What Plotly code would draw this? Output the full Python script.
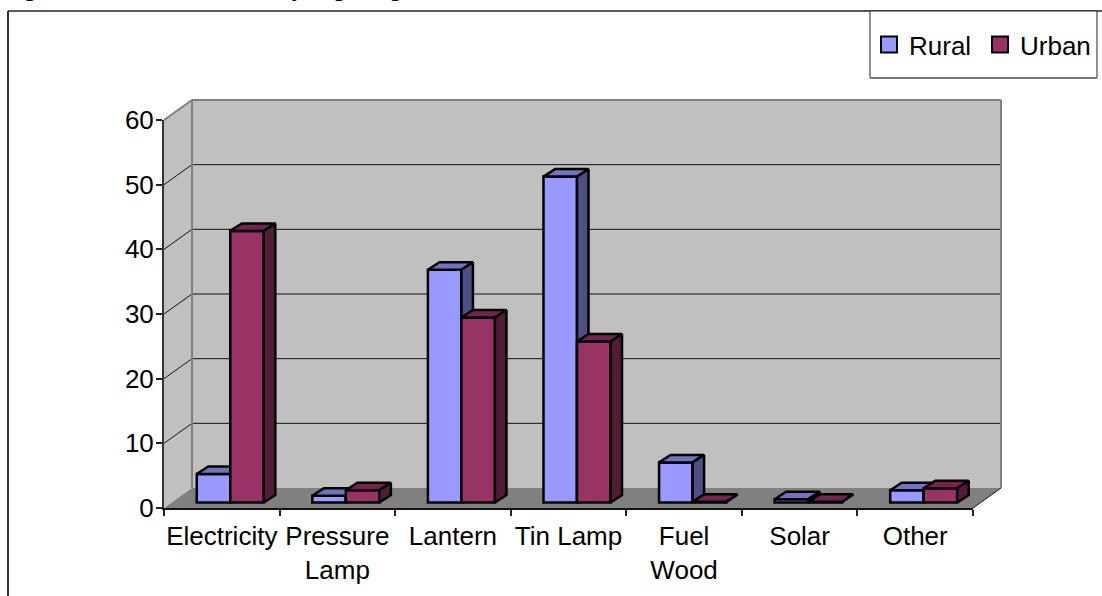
import plotly.graph_objects as go

categories = ["Electricity", "Pressure<br>Lamp", "Lantern", "Tin Lamp", "Fuel<br>Wood", "Solar", "Other"]
rural = [4.4, 1.05, 36, 50.4, 6.2, 0.5, 1.9]
urban = [42, 1.9, 28.6, 24.9, 0.1, 0.1, 2.2]
y_ticks = [0, 10, 20, 30, 40, 50, 60]
title_text = "Figure 4.3: Households by Lighting"

W, H = 1102, 596
FONT = "Liberation Sans"
X0, X1, Y0, Y60 = 164, 973, 508, 120      # front plane of the axes, px
DX, DY = 28, 20                           # wall depth, px
BAR_DX, BAR_DY = 11.5, 7.5                # bar depth, px
BAR_SHIFT_X, BAR_SHIFT_Y = 8.5, 5.5       # bars stand inside the floor, px
BAR_W = 0.29
BLUE, BLUE_TOP, BLUE_SIDE = "#9999FF", "#7373BF", "#4F4F85"
RED, RED_TOP, RED_SIDE = "#993366", "#73264D", "#521C38"

cat_px = (X1 - X0) / len(categories)
unit_px = (Y0 - Y60) / 60
ddx, ddy = BAR_DX / cat_px, BAR_DY / unit_px


def px(x):
    return x / W


def py(y):
    return 1 - y / H


def polygon_shape(points, fill, line=None, width=0):
    path = "M" + "L".join(f"{px(a):.5f},{py(b):.5f}" for a, b in points) + "Z"
    return dict(type="path", xref="paper", yref="paper", path=path, fillcolor=fill,
                line=dict(color=line or fill, width=width), layer="below")


def line_shape(x0, y0, x1, y1, color, width):
    return dict(type="line", xref="paper", yref="paper", x0=px(x0), y0=py(y0), x1=px(x1), y1=py(y1),
                line=dict(color=color, width=width), layer="below")


shapes = [
    line_shape(8, 11, W, 11, "#222222", 1.5),
    line_shape(8, 11, 8, H, "#333333", 2),
    polygon_shape([(X0, Y60), (X0 + DX, Y60 - DY), (X0 + DX, Y0 - DY), (X0, Y0)], "#C0C0C0"),
    polygon_shape([(X0 + DX, Y60 - DY), (X1 + DX, Y60 - DY), (X1 + DX, Y0 - DY), (X0 + DX, Y0 - DY)], "#C0C0C0"),
    polygon_shape([(X0, Y0), (X1, Y0), (X1 + DX, Y0 - DY), (X0 + DX, Y0 - DY)], "#808080"),
]
for t in y_ticks[1:-1]:
    y = Y0 - t * unit_px
    shapes.append(line_shape(X0, y, X0 + DX, y - DY, "#111111", 1))
    shapes.append(line_shape(X0 + DX, y - DY, X1 + DX, y - DY, "#111111", 1))
shapes += [
    line_shape(X0 + DX, Y60 - DY, X1 + DX, Y60 - DY, "#808080", 2),
    line_shape(X0 + DX, Y60 - DY, X0 + DX, Y0 - DY, "#808080", 2),
    line_shape(X1 + DX, Y60 - DY, X1 + DX, Y0 - DY, "#808080", 2),
    line_shape(X0, Y60, X0 + DX, Y60 - DY, "#808080", 2),
    line_shape(X1, Y0, X1 + DX, Y0 - DY, "#111111", 1),
    # legend frame
    dict(type="rect", xref="paper", yref="paper", x0=px(870), x1=px(1097), y0=py(78), y1=py(11),
         fillcolor="white", line=dict(color="#222222", width=1), layer="below"),
    line_shape(870, 78, 1097, 78, "#777777", 2),
]


def faces(values, left, width):
    top_x, top_y, side_x, side_y = [], [], [], []
    for i, v in enumerate(values):
        a = i + left
        b = a + width
        top_x += [a, b, b + ddx, a + ddx, a, None]
        top_y += [v, v, v + ddy, v + ddy, v, None]
        side_x += [b, b + ddx, b + ddx, b, b, None]
        side_y += [0, ddy, v + ddy, v, 0, None]
    return top_x, top_y, side_x, side_y


def series(name, values, left, color, top_col, side_col, xa, ya):
    top_x, top_y, side_x, side_y = faces(values, left, BAR_W)
    line = dict(color="black", width=2.5)
    return [
        go.Bar(x=list(range(len(values))), y=values, width=BAR_W, offset=left, name=name, showlegend=False,
               marker=dict(color=color, line=line), xaxis=xa, yaxis=ya, cliponaxis=False),
        go.Scatter(x=top_x, y=top_y, mode="lines", fill="toself", fillcolor=top_col, line=line,
                   showlegend=False, hoverinfo="skip", xaxis=xa, yaxis=ya, cliponaxis=False),
        go.Scatter(x=side_x, y=side_y, mode="lines", fill="toself", fillcolor=side_col, line=line,
                   showlegend=False, hoverinfo="skip", xaxis=xa, yaxis=ya, cliponaxis=False),
    ]


traces = []
for name, col in (("Rural", BLUE), ("Urban", RED)):
    traces.append(go.Scatter(x=[None], y=[None], mode="markers", name=name,
                             marker=dict(symbol="square", size=20, color=col, line=dict(color="black", width=2))))
traces += series("Rural", rural, -BAR_W, BLUE, BLUE_TOP, BLUE_SIDE, "x2", "y2")
traces += series("Urban", urban, 0, RED, RED_TOP, RED_SIDE, "x3", "y3")

fig = go.Figure(traces)

shift_x = BAR_SHIFT_X / cat_px
shift_y = BAR_SHIFT_Y / unit_px
x_range = [-0.5, len(categories) - 0.5]
over_x = dict(visible=False, overlaying="x", range=[x_range[0] - shift_x, x_range[1] - shift_x])
over_y = dict(visible=False, overlaying="y", range=[-shift_y, 60 - shift_y])

fig.update_layout(
    width=W, height=H, autosize=False,
    margin=dict(l=0, r=0, t=0, b=0, pad=0, autoexpand=False),
    paper_bgcolor="white", plot_bgcolor="rgba(0,0,0,0)",
    font=dict(family=FONT, size=26, color="black"),
    shapes=shapes,
    showlegend=True,
    legend=dict(orientation="h", x=px(869), xanchor="left", y=py(21), yanchor="top",
                bgcolor="rgba(0,0,0,0)", borderwidth=0, entrywidth=66, entrywidthmode="pixels",
                font=dict(family=FONT, size=26, color="black")),
    xaxis=dict(domain=[px(X0), px(X1)], range=x_range, tickmode="array",
               tickvals=list(range(len(categories))), ticktext=categories, ticks="",
               ticklabelstandoff=4,
               showgrid=False, zeroline=False, showline=True, linecolor="#111111", linewidth=1.5,
               minor=dict(tick0=-0.5, dtick=1, ticks="outside", ticklen=6, tickcolor="#222222", tickwidth=1.5, showgrid=False),
               tickfont=dict(family=FONT, size=26), anchor="y"),
    yaxis=dict(domain=[py(Y0), py(Y60)], range=[0, 60], tickmode="array", tickvals=y_ticks,
               ticks="outside", ticklen=6, tickcolor="#222222", tickwidth=1.5, ticklabelstandoff=-3,
               showgrid=False, zeroline=False, showline=True, linecolor="#333333", linewidth=2,
               tickfont=dict(family=FONT, size=26), anchor="x"),
    xaxis2={**over_x, "anchor": "y2"},
    yaxis2={**over_y, "anchor": "x2"},
    xaxis3={**over_x, "anchor": "y3"},
    yaxis3={**over_y, "anchor": "x3"},
    annotations=[dict(text=title_text, xref="paper", yref="paper", x=px(0), xanchor="left",
                      y=py(3), yanchor="bottom", showarrow=False, borderpad=0,
                      font=dict(family=FONT, size=26, color="black"))],
)

fig.write_html("out.html", config={"displayModeBar": False},
               post_script="document.body.style.margin='0';document.body.style.overflow='hidden';")
